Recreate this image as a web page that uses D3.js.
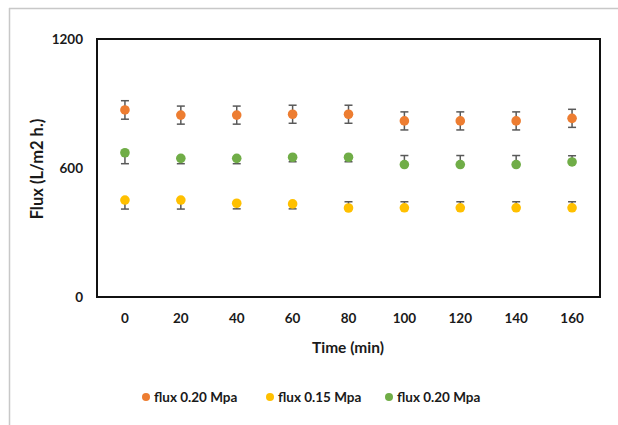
<!DOCTYPE html>
<html>
<head>
<meta charset="utf-8">
<script src="https://cdn.jsdelivr.net/npm/d3@7"></script>
<style>
  body { margin: 0; background: #fff; }
  .axis text { font-family: Lato, "Open Sans", sans-serif; font-weight: bold; font-size: 13.5px; fill: #1a1a1a; }
  .axis path { display: none; }
</style>
</head>
<body>
<div id="chart"></div>
<script>
// time points (min)
var times = [0, 20, 40, 60, 80, 100, 120, 140, 160];
var yTicks = [0, 600, 1200];

// series values, with error above / below
var seriesNames = ["flux 0.20 Mpa", "flux 0.15 Mpa", "flux 0.20 Mpa"];
var colors = ["#ED7D31", "#FFC000", "#70AD47"];

var orange = [870, 846, 846, 850, 850, 819, 819, 819, 831];
var orangeUp = [43, 42, 42, 42, 42, 42, 42, 42, 42];
var orangeDown = [43, 42, 42, 42, 42, 42, 42, 42, 42];

var yellow = [451, 451, 436, 433, 414, 415, 415, 415, 415];
var yellowUp = [0, 0, 0, 0, 29, 28, 28, 28, 28];
var yellowDown = [42, 42, 26, 23, 0, 0, 0, 0, 0];

var green = [671, 645, 645, 650, 650, 616, 616, 616, 628];
var greenUp = [0, 0, 0, 0, 0, 42, 42, 42, 29];
var greenDown = [51, 25, 25, 21, 21, 0, 0, 0, 0];

var w = 618, h = 425;
var svg = d3.select("#chart").append("svg")
  .attr("width", w).attr("height", h);

// outer frame lines (gray)
svg.append("line").attr("x1", 9).attr("y1", 8.5).attr("x2", w).attr("y2", 8.5)
  .attr("stroke", "#c8c8c8").attr("stroke-width", 1.5);
svg.append("line").attr("x1", 9.5).attr("y1", 8).attr("x2", 9.5).attr("y2", h)
  .attr("stroke", "#c8c8c8").attr("stroke-width", 1.5);

var plotLeft = 97, plotTop = 39, plotRight = 600, plotBottom = 297;

var xScale = d3.scaleBand().domain(times).range([plotLeft, plotRight]);
var yScale = d3.scaleLinear().domain([0, 1200]).range([plotBottom, plotTop]);

// plot box
svg.append("rect")
  .attr("x", plotLeft).attr("y", plotTop)
  .attr("width", plotRight - plotLeft).attr("height", plotBottom - plotTop)
  .attr("fill", "none").attr("stroke", "#111").attr("stroke-width", 2);

// axes
var xAxis = d3.axisBottom(xScale).tickSize(0).tickPadding(0);
svg.append("g").attr("class", "axis")
  .attr("transform", "translate(0," + (plotBottom + 16) + ")")
  .call(xAxis)
  .selectAll("text").attr("dy", "0.71em");

var yAxis = d3.axisLeft(yScale).tickValues(yTicks).tickFormat(d3.format("d"))
  .tickSize(0).tickPadding(14);
svg.append("g").attr("class", "axis")
  .attr("transform", "translate(" + plotLeft + ",0)")
  .call(yAxis);

// axis titles
svg.append("text")
  .attr("x", 348).attr("y", 353)
  .attr("text-anchor", "middle")
  .style("font-family", "Lato, 'Open Sans', sans-serif")
  .style("font-weight", "bold").style("font-size", "15.5px").style("fill", "#1a1a1a")
  .text("Time (min)");

svg.append("text")
  .attr("transform", "translate(43,169) rotate(-90)")
  .attr("text-anchor", "middle")
  .style("font-family", "Lato, 'Open Sans', sans-serif")
  .style("font-weight", "bold").style("font-size", "16.5px").style("fill", "#1a1a1a")
  .text("Flux (L/m2 h.)");

var series = [
  { vals: orange, up: orangeUp, down: orangeDown },
  { vals: yellow, up: yellowUp, down: yellowDown },
  { vals: green, up: greenUp, down: greenDown }
];

var cx = function(i) { return xScale(times[i]) + xScale.bandwidth() / 2; };

series.forEach(function(s, k) {
  var g = svg.append("g");
  var idx = d3.range(times.length);

  // error bars
  idx.forEach(function(i) {
    var x = cx(i);
    var y0 = yScale(s.vals[i]);
    if (s.up[i] > 0) {
      var yu = yScale(s.vals[i] + s.up[i]);
      g.append("line").attr("x1", x).attr("x2", x).attr("y1", y0).attr("y2", yu)
        .attr("stroke", "#595959").attr("stroke-width", 1.5);
      g.append("line").attr("x1", x - 4).attr("x2", x + 4).attr("y1", yu).attr("y2", yu)
        .attr("stroke", "#595959").attr("stroke-width", 1.5);
    }
    if (s.down[i] > 0) {
      var yd = yScale(s.vals[i] - s.down[i]);
      g.append("line").attr("x1", x).attr("x2", x).attr("y1", y0).attr("y2", yd)
        .attr("stroke", "#595959").attr("stroke-width", 1.5);
      g.append("line").attr("x1", x - 4).attr("x2", x + 4).attr("y1", yd).attr("y2", yd)
        .attr("stroke", "#595959").attr("stroke-width", 1.5);
    }
  });

  g.selectAll("circle").data(idx).enter().append("circle")
    .attr("cx", function(i) { return cx(i); })
    .attr("cy", function(i) { return yScale(s.vals[i]); })
    .attr("r", 4.8)
    .attr("fill", colors[k]);
});

// legend
var legendX = [146, 270, 389];
var legend = svg.append("g");
seriesNames.forEach(function(name, k) {
  legend.append("circle").attr("cx", legendX[k]).attr("cy", 397).attr("r", 4)
    .attr("fill", colors[k]);
  legend.append("text").attr("x", legendX[k] + 8).attr("y", 401.5)
    .style("font-family", "Lato, 'Open Sans', sans-serif")
    .style("font-weight", "bold").style("font-size", "13.5px").style("fill", "#1a1a1a")
    .text(name);
});
</script>
</body>
</html>
